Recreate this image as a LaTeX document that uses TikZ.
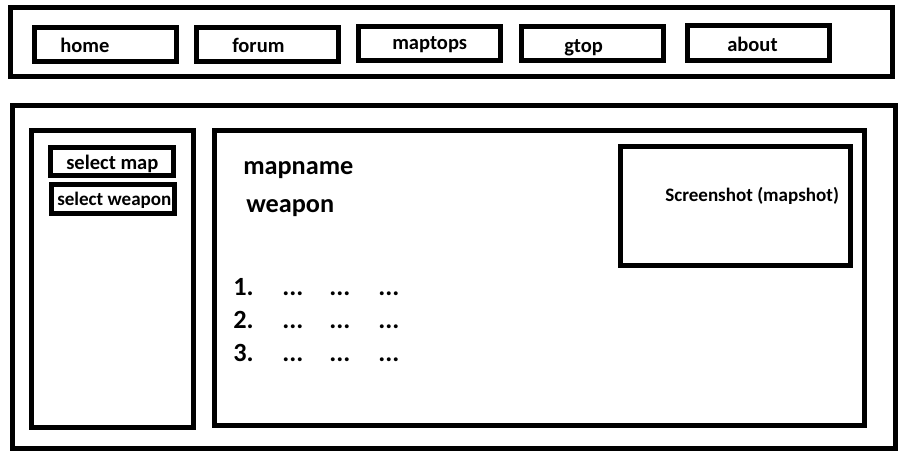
\documentclass[tikz,border=0pt]{standalone}
\usepackage{fontspec}
\setmainfont{Carlito}
\begin{document}
\begin{tikzpicture}[
      x=0.75pt, y=-0.75pt,
      B/.style={draw, line width=3.75pt},
      T/.style={anchor=base west, inner sep=0pt, font=\bfseries\fontsize{15.4}{18}\selectfont},
      S/.style={anchor=base west, inner sep=0pt, font=\bfseries\fontsize{14.3}{17}\selectfont},
      H/.style={anchor=base west, inner sep=0pt, font=\bfseries\fontsize{19.7}{23}\selectfont}
    ]
    \fill [white] (0,0) rectangle (907,458);
    % top menu
    \draw [B] (10.5,7.5) rectangle (892.5,76.5);
    \draw [B] (34.5,27.5) rectangle (176.5,61.5);
    \draw [B] (196.5,27.5) rectangle (338.5,61.5);
    \draw [B] (358.5,26.5) rectangle (500.5,60.5);
    \draw [B] (521.5,26.5) rectangle (663.5,60.5);
    \draw [B] (687.5,25.5) rectangle (829.5,60.5);
    \node [T] (home) at (60,52) {home};
    \node [T] (forum) at (232,52) {forum};
    \node [T] (maptops) at (392,49) {maptops};
    \node [T] (gtop) at (564,52) {gtop};
    \node [T] (about) at (727,51) {about};
    % page
    \draw [B] (12.5,105) rectangle (895.5,448.5);
    \draw [B] (31.5,130.5) rectangle (193.5,427.5);
    \draw [B] (214.5,130.5) rectangle (864.5,425);
    \draw [B] (50.5,147.5) rectangle (173.5,175.5);
    \draw [B] (51.5,184.5) rectangle (174.5,213.5);
    \node [T] (selmap) at (66,169) {select map};
    \node [S] (selweapon) at (57,205) {select weapon};
    \node [H] (mapname) at (243,174) {mapname};
    \node [H] (weapon) at (246,212) {weapon};
    \draw [B] (620.5,146.5) rectangle (850.5,265.5);
    \node [S] (shot) at (665,201) {Screenshot (mapshot)};
    % list
    \node [H] (n1) at (233,295) {1.};
    \node [H] (n2) at (233,328) {2.};
    \node [H] (n3) at (233,361) {3.};
    \node [H] (a1) at (282,295) {...};
    \node [H] (b1) at (329,295) {...};
    \node [H] (c1) at (378,295) {...};
    \node [H] (a2) at (282,328) {...};
    \node [H] (b2) at (329,328) {...};
    \node [H] (c2) at (378,328) {...};
    \node [H] (a3) at (282,361) {...};
    \node [H] (b3) at (329,361) {...};
    \node [H] (c3) at (378,361) {...};
  \end{tikzpicture}
\end{document}
